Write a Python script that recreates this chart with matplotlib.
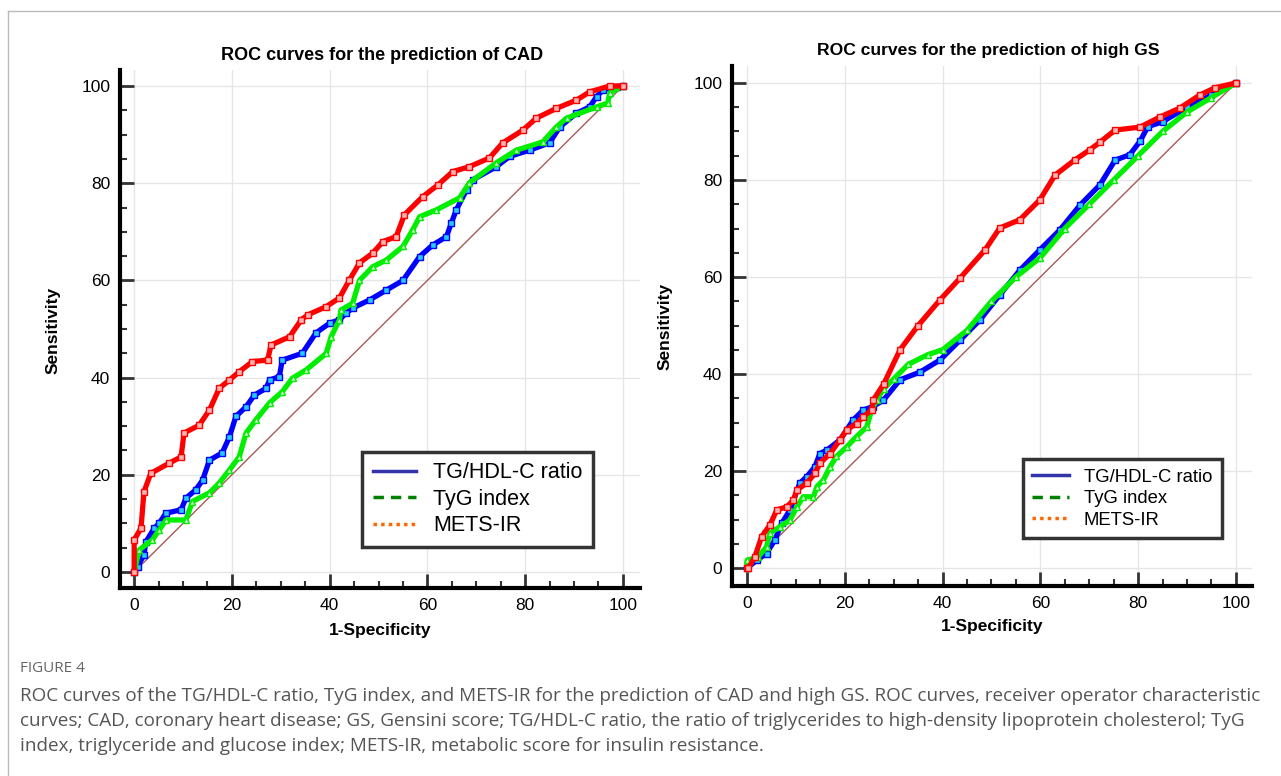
import matplotlib
matplotlib.use('Agg')
import matplotlib.pyplot as plt
from matplotlib.lines import Line2D
from matplotlib.ticker import MultipleLocator

plt.rcParams['font.family'] = ['Liberation Sans', 'DejaVu Sans']

# ---- data (1-specificity %, sensitivity %) ----
# CAD panel
cad_tg_x = [0, 0.7, 2, 2.4, 4.1, 5.1, 6.5, 9.6, 10.6, 12.6, 14, 15.4, 18, 19.5, 20.8, 22.9, 24.6, 27, 27.7,
            29.7, 30.3, 34.4, 37.2, 40, 42, 43.4, 44.7, 48.2, 51.6, 55, 58.4, 61.1, 63.9, 64.9, 65.9, 68,
            69.3, 74.1, 76.8, 80.9, 85, 87.1, 90.5, 93.2, 94.6, 95.9, 98.7, 100]
cad_tg_y = [0, 1.1, 3.5, 6.2, 9, 10, 12.1, 12.8, 15.2, 16.9, 18.9, 23, 24.5, 27.8, 32, 34, 36.4, 37.8, 39.5,
            40.2, 43.6, 45, 49.2, 51.2, 51.9, 53.3, 54.3, 56, 58, 60, 64.9, 67.3, 69, 71.8, 74.5, 78.6,
            80.7, 83.4, 85.5, 86.8, 88.3, 91.6, 94.4, 95.7, 97.8, 99.2, 99.9, 100]
cad_tyg_x = [0, 1, 3.7, 5.1, 6.5, 10.6, 11.9, 15.4, 17.4, 19.5, 21.5, 22.9, 24.9, 27.7, 30.3, 32.4, 35.2,
             39.3, 40.3, 42, 42.3, 44.7, 46.1, 48.8, 51.6, 55, 57, 58.4, 61.8, 66.6, 68.6, 74.1, 78.2,
             83.6, 86.4, 88.5, 94.6, 96.9, 97.3, 100]
cad_tyg_y = [0, 4.5, 6.6, 8.6, 10.7, 10.7, 14.5, 16.3, 18.3, 21, 23.7, 28.6, 31.3, 34.8, 37.1, 39.9, 41.6,
             45, 48.4, 51.9, 53.9, 55.3, 60, 62.8, 64.2, 67, 70.4, 73.1, 74.5, 77, 80.1, 84.2, 86.8,
             88.5, 91.6, 93.4, 95.7, 96.5, 98.6, 100]
cad_mets_x = [0, 0, 1.4, 2, 3.4, 7.2, 9.6, 10.2, 13.3, 15.4, 17.4, 19.5, 21.5, 24.2, 27.3, 28, 31.8, 34.2,
              35.5, 39.3, 42, 44, 46.1, 48.8, 50.9, 53.6, 55.3, 59, 62.1, 65.2, 68.6, 72.7, 75.4, 79.5,
              82.3, 86.4, 90.5, 93.2, 97.3, 100]
cad_mets_y = [0, 6.6, 9, 16.5, 20.3, 22.4, 23.7, 28.6, 30.2, 33.3, 37.8, 39.5, 41.2, 43.3, 43.6, 46.7, 48.4,
              51.9, 52.9, 54.6, 56.4, 60, 63.6, 65.6, 68, 69, 73.5, 77.2, 79.6, 82.4, 83.4, 85.2, 88.3,
              90.9, 93.4, 95.4, 97.1, 98.8, 100, 100]

# high GS panel
gs_tg_x = [0, 2, 4, 5.7, 7.1, 8.8, 10.8, 12.2, 13.9, 14.9, 16.3, 19, 20.4, 21.7, 23.8, 25.8, 27.9, 31.3,
           35.4, 39.5, 43.6, 47.6, 51.7, 55.8, 59.9, 64, 68.1, 72.2, 75.3, 78.3, 80.4, 82, 85, 90, 95, 100]
gs_tg_y = [0, 1.6, 3, 5.8, 9.2, 12, 17.5, 18.8, 20.9, 23.6, 24.3, 26.4, 28.5, 30.5, 32.6, 33.3, 34.6, 38.8,
           40.4, 42.9, 47, 51.1, 56.3, 61.4, 65.6, 69.7, 74.8, 79, 84.1, 85.2, 88, 91, 92, 95, 97.5, 100]
gs_tyg_x = [0, 0, 2.3, 4, 4.7, 6.7, 8.8, 10.2, 11.5, 13.6, 14.3, 15.6, 17, 18.3, 20.4, 22.4, 24.5, 25.5,
            26.5, 28, 30, 33, 37, 40, 45, 50, 55, 60, 65, 70, 75, 80, 85, 90, 95, 100]
gs_tyg_y = [0, 1.6, 2.3, 4.4, 7.2, 8.5, 9.9, 12.6, 14.7, 14.7, 16.8, 18.1, 20.9, 23, 25, 27.1, 29.1, 32.6,
            34.6, 37, 39, 42, 44, 45, 49, 55, 60, 64, 70, 75, 80, 85, 90, 94, 97, 100]
gs_mets_x = [0, 0.3, 1.6, 3, 4.7, 6.1, 8.1, 9.5, 10.2, 12.2, 13.9, 14.9, 17, 19, 20.4, 22.4, 23.8, 25.5,
             25.8, 28, 31.3, 35, 39.5, 43.6, 48.7, 51.7, 55.8, 59.9, 63, 67, 70.1, 72.2, 75.3, 80.4,
             84.5, 88.5, 92.6, 95.7, 100]
gs_mets_y = [0, 0, 2.3, 6.5, 8.9, 12, 12.6, 14, 16.1, 17.5, 19.5, 21.6, 23.6, 26.4, 28.5, 29.8, 31.2, 32.6,
             34.6, 38, 45, 50, 55.3, 59.8, 65.6, 70.1, 71.8, 75.9, 81, 84.1, 86.2, 87.8, 90.3, 90.9,
             93, 94.8, 97.5, 99, 100]

legend_labels = ['TG/HDL-C ratio', 'TyG index', 'METS-IR']
titles = ['ROC curves for the prediction of CAD', 'ROC curves for the prediction of high GS']
caption_lines = [
    'ROC curves of the TG/HDL-C ratio, TyG index, and METS-IR for the prediction of CAD and high GS. '
    'ROC curves, receiver operator characteristic',
    'curves; CAD, coronary heart disease; GS, Gensini score; TG/HDL-C ratio, the ratio of triglycerides '
    'to high-density lipoprotein cholesterol; TyG',
    'index, triglyceride and glucose index; METS-IR, metabolic score for insulin resistance.',
]

W, H = 1281, 776
fig = plt.figure(figsize=(W / 100, H / 100), dpi=100)


def fx(px):
    return px / W


def fy(py):
    return 1 - py / H


# outer panel border
fig.add_artist(Line2D([fx(8), 1], [fy(11), fy(11)], color='#bbbbbb', lw=1, transform=fig.transFigure))
fig.add_artist(Line2D([fx(8), fx(8)], [fy(11), 0], color='#bbbbbb', lw=1, transform=fig.transFigure))


def roc_panel(rect, xlim, ylim, curves):
    ax = fig.add_axes(rect)
    ax.set_xlim(*xlim)
    ax.set_ylim(*ylim)
    for s in ['top', 'right']:
        ax.spines[s].set_visible(False)
    for s in ['left', 'bottom']:
        ax.spines[s].set_linewidth(3)
        ax.spines[s].set_color('black')
    ax.xaxis.set_major_locator(MultipleLocator(20))
    ax.yaxis.set_major_locator(MultipleLocator(20))
    ax.xaxis.set_minor_locator(MultipleLocator(5))
    ax.yaxis.set_minor_locator(MultipleLocator(5))
    ax.tick_params(which='major', direction='in', length=10, width=2, color='#333333',
                   labelsize=12.5, pad=7)
    ax.tick_params(which='minor', direction='in', length=5, width=1.5, color='#333333')
    ax.grid(True, which='major', color='#e6e6e6', lw=1)
    ax.set_axisbelow(True)
    ax.plot([0, 100], [0, 100], color='#a85a5a', lw=1, zorder=2)
    styles = [('#0000ff', 's', '#22ccff'), ('#00ee00', '^', '#ccffcc'), ('#ff0000', 's', '#ffb0b0')]
    for (x, y), (c, m, mfc) in zip(curves, styles):
        ax.plot(x, y, color=c, lw=3.8, marker=m, ms=4, mfc=mfc, mec=c, mew=1, zorder=3)
    return ax


ax1 = roc_panel([fx(120), fy(588), fx(520), (588 - 70) / H], (-2.9, 103.5), (-3.3, 103.3),
                [(cad_tg_x, cad_tg_y), (cad_tyg_x, cad_tyg_y), (cad_mets_x, cad_mets_y)])
ax2 = roc_panel([fx(732), fy(586), fx(520), (586 - 66) / H], (-3.07, 103.3), (-3.7, 103.5),
                [(gs_tg_x, gs_tg_y), (gs_tyg_x, gs_tyg_y), (gs_mets_x, gs_mets_y)])

handles = [Line2D([], [], color='#3333aa', lw=2.5, ls='-'),
           Line2D([], [], color='#008000', lw=2.5, ls=(0, (3, 2))),
           Line2D([], [], color='#ff6600', lw=2.5, ls=(0, (1, 1.2)))]

for ax, anchor, fs in [(ax1, (362, 547), 15.5), (ax2, (1023, 538), 13.3)]:
    leg = ax.legend(handles, legend_labels, loc='lower left',
                    bbox_to_anchor=(fx(anchor[0]), fy(anchor[1])), bbox_transform=fig.transFigure,
                    borderaxespad=0, fontsize=fs, fancybox=False, framealpha=1, edgecolor='#333333',
                    handlelength=2.0, labelspacing=0.25, borderpad=0.5, handletextpad=0.8)
    leg.get_frame().set_linewidth(2.5)

# titles and axis labels
fig.text(fx(382), fy(55), titles[0], ha='center', va='center', fontsize=13, fontweight='bold')
fig.text(fx(988), fy(50), titles[1], ha='center', va='center', fontsize=12.6, fontweight='bold')
fig.text(fx(53), fy(330), 'Sensitivity', rotation=90, ha='center', va='center', fontsize=12.5,
         fontweight='bold')
fig.text(fx(665), fy(326), 'Sensitivity', rotation=90, ha='center', va='center', fontsize=12.5,
         fontweight='bold')
fig.text(fx(380), fy(630), '1-Specificity', ha='center', va='center', fontsize=12.5, fontweight='bold')
fig.text(fx(992), fy(627), '1-Specificity', ha='center', va='center', fontsize=12.5, fontweight='bold')

# caption
fig.text(fx(20), fy(668), 'FIGURE 4', ha='left', va='center', fontsize=11, color='#666666',
         family=['Open Sans', 'DejaVu Sans'])
for i, line in enumerate(caption_lines):
    fig.text(fx(20), fy(696 + 25 * i), line, ha='left', va='center', fontsize=13.6, color='#555555',
             family=['Open Sans', 'DejaVu Sans'])

fig.savefig('out.png', dpi=100)
